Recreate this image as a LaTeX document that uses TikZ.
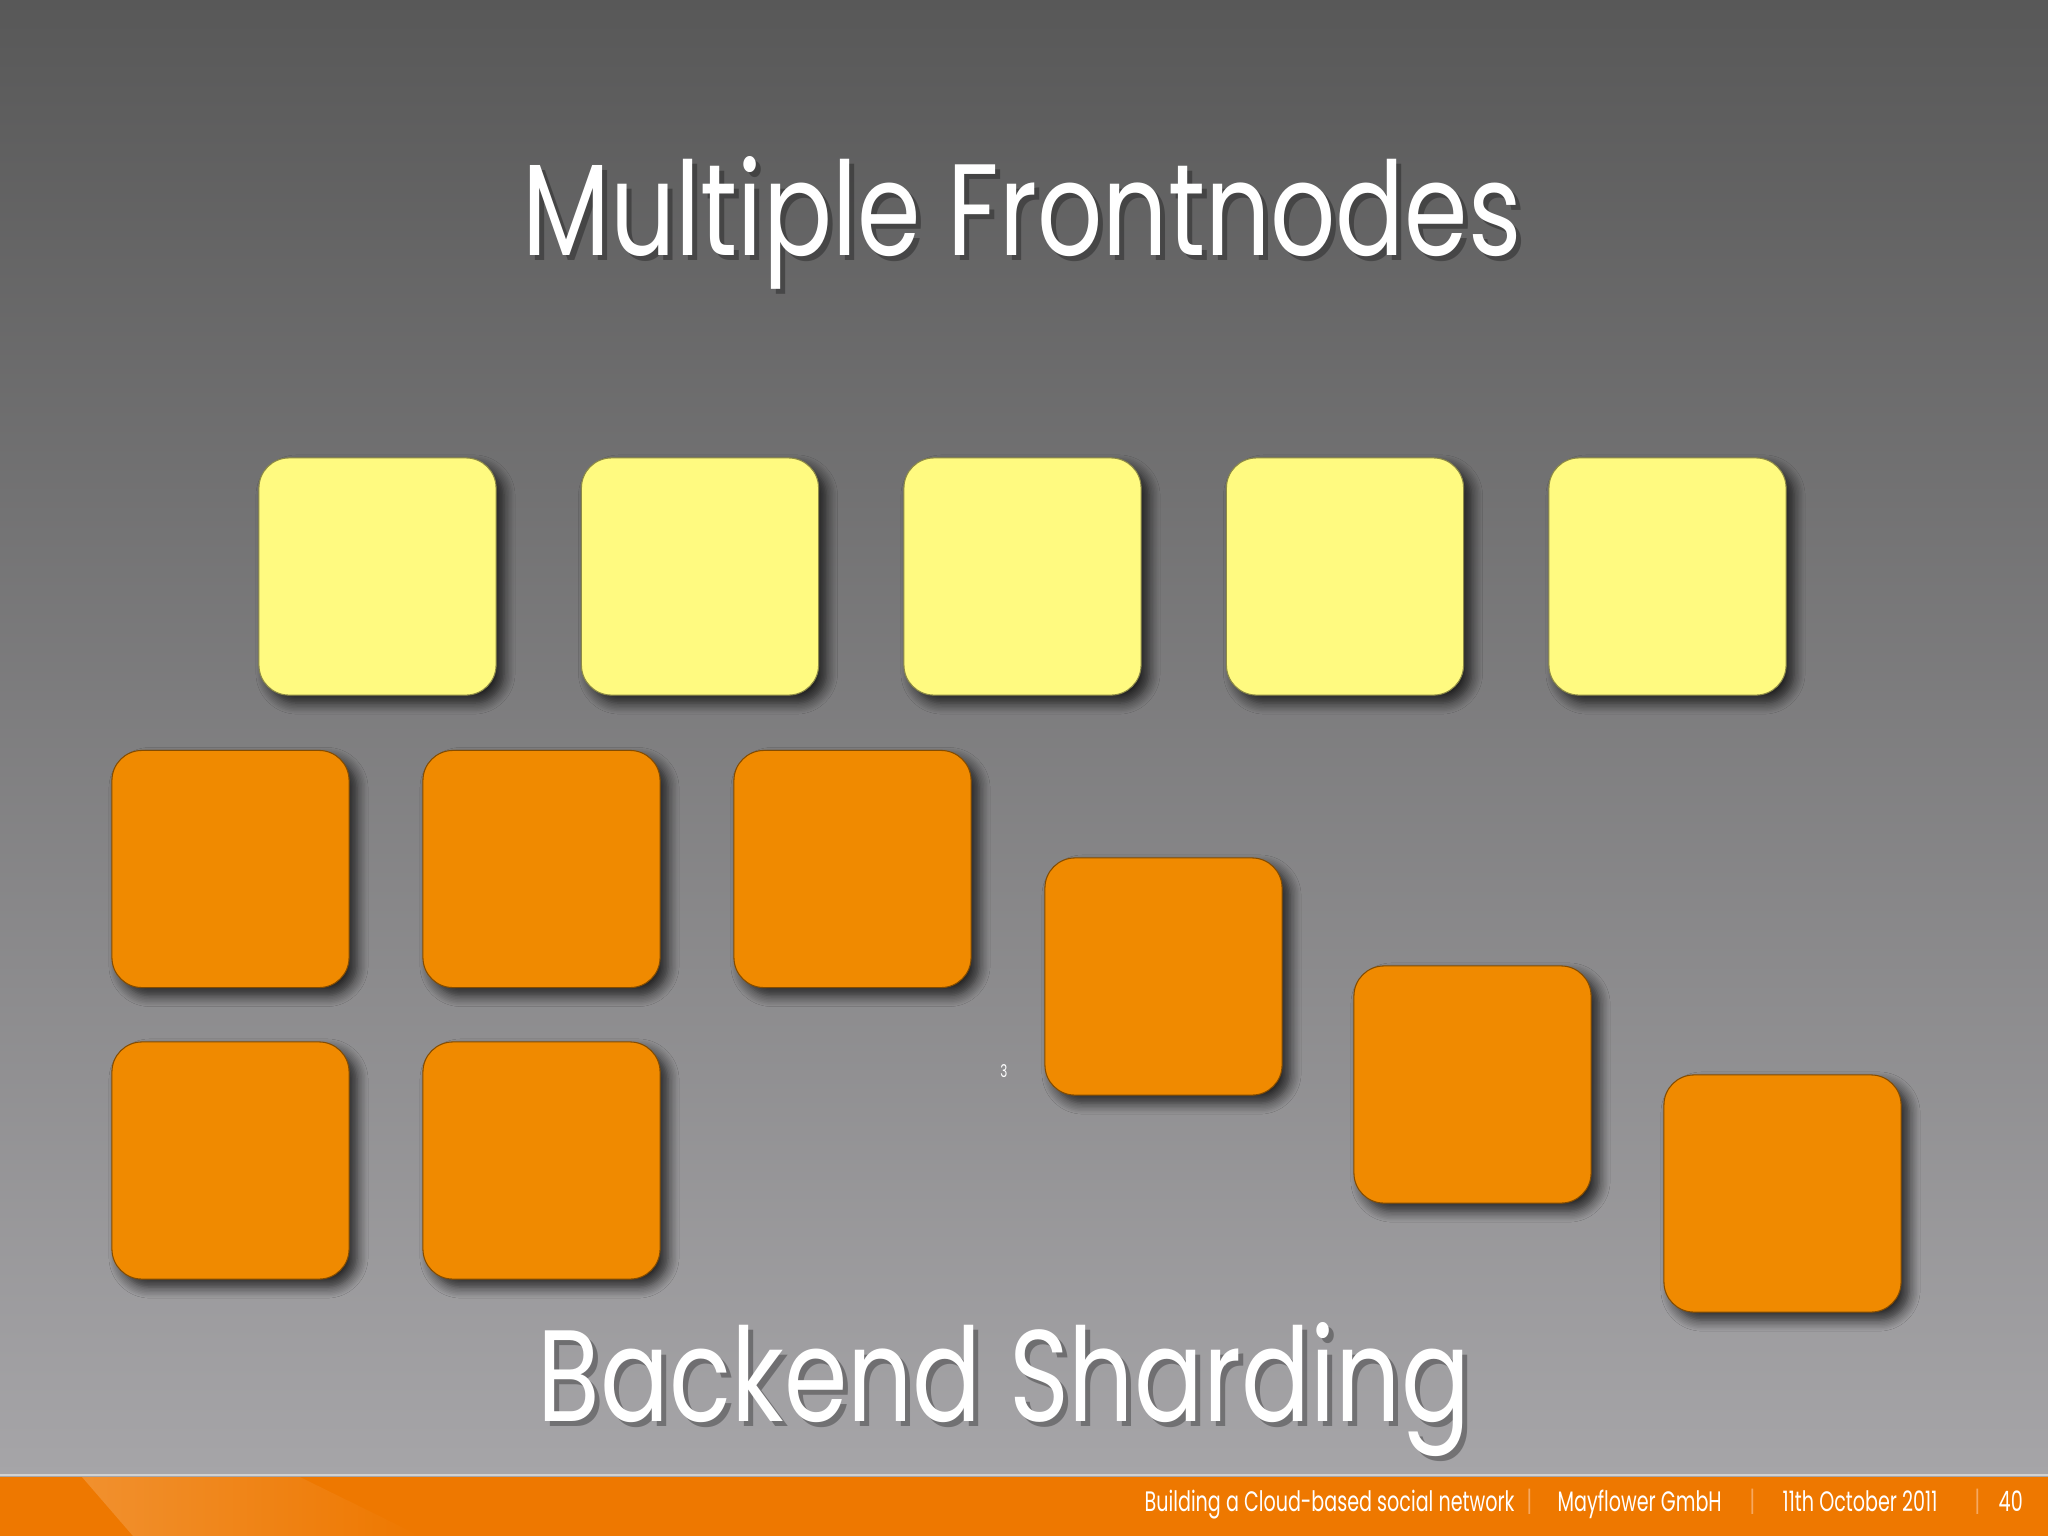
\documentclass[tikz,border=0pt]{standalone}
\usepackage{fontspec}
\setmainfont{Poppins}
\newfontfamily\titlefont[FakeStretch=0.785]{Poppins}
\newfontfamily\footfont[FakeStretch=0.68]{Poppins}
\usetikzlibrary{shadows.blur}

\definecolor{bgtop}{RGB}{88,88,88}
\definecolor{bgbottom}{RGB}{166,165,168}
\definecolor{frontyellow}{RGB}{255,250,128}
\definecolor{shardorange}{RGB}{240,138,0}
\definecolor{footorange}{RGB}{238,120,0}
\definecolor{footsep}{RGB}{246,168,96}

\tikzset{
  tile/.style = {rounded corners = 3mm, minimum size = 23.7mm, inner sep = 0, line width = .3pt,
    blur shadow = {shadow xshift = .8mm, shadow yshift = -.8mm, shadow blur radius = 1.1mm,
                   shadow blur steps = 8, shadow opacity = 75}},
  front/.style = {tile, fill = frontyellow, draw = frontyellow!55!black},
  shard/.style = {tile, fill = shardorange, draw = shardorange!55!black},
  heading/.style = {text = white, font = \titlefont\fontsize{37}{40}\selectfont, anchor = base, inner sep = 0},
  headshadow/.style = {heading, text = black, opacity = .3},
  foot/.style = {text = white, font = \footfont\fontsize{8}{9}\selectfont, anchor = base west, inner sep = 0},
  footbar/.style = {foot, text = footsep}
}

\begin{document}
\begin{tikzpicture}[x = .01cm, y = -.01cm]
\useasboundingbox (0, 0) rectangle (2048, 1536);
\shade [top color = bgtop, bottom color = bgbottom] (0, 0) rectangle (2048, 1476);

% footer band
\fill [footorange] (0, 1477) rectangle (2048, 1536);
\shade [left color = white!18!footorange, right color = footorange] (82, 1477) -- (300, 1477) -- (420, 1536) -- (133, 1536) -- cycle;
\draw [black!18, line width = .25mm] (0, 1475) -- (2048, 1475);

% frontnodes
\foreach \i in {1,...,5}
  \node [front] (front\i) at (55 + 322.5*\i, 576.5) {};

% shards
\foreach \i/\x/\y in {1/230.5/869, 2/541.5/869, 3/852.5/869, 4/230.5/1160.5, 5/541.5/1160.5,
                      6/1163.5/976.5, 7/1472.5/1084.5, 8/1782.5/1193.5}
  \node [shard] (shard\i) at (\x, \y) {};

\node [text = white, font = \footfont\fontsize{5}{5}\selectfont] (mark) at (1004, 1071) {3};

% headings
\node [headshadow] (titleshadow) at (1027, 260) {Multiple Frontnodes};
\node [heading] (title) at (1022, 255) {Multiple Frontnodes};
\node [headshadow] (subshadow) at (1009, 1426) {Backend Sharding};
\node [heading] (subtitle) at (1004, 1421) {Backend Sharding};

% footer
\node [foot] (talk) at (1144, 1511) {Building a Cloud-based social network};
\node [footbar] (bar1) at (1526, 1511) {|};
\node [foot] (company) at (1557, 1511) {Mayflower GmbH};
\node [footbar] (bar2) at (1749, 1511) {|};
\node [foot] (date) at (1782, 1511) {11th October 2011};
\node [footbar] (bar3) at (1974, 1511) {|};
\node [foot] (page) at (1998, 1511) {40};
\end{tikzpicture}
\end{document}
